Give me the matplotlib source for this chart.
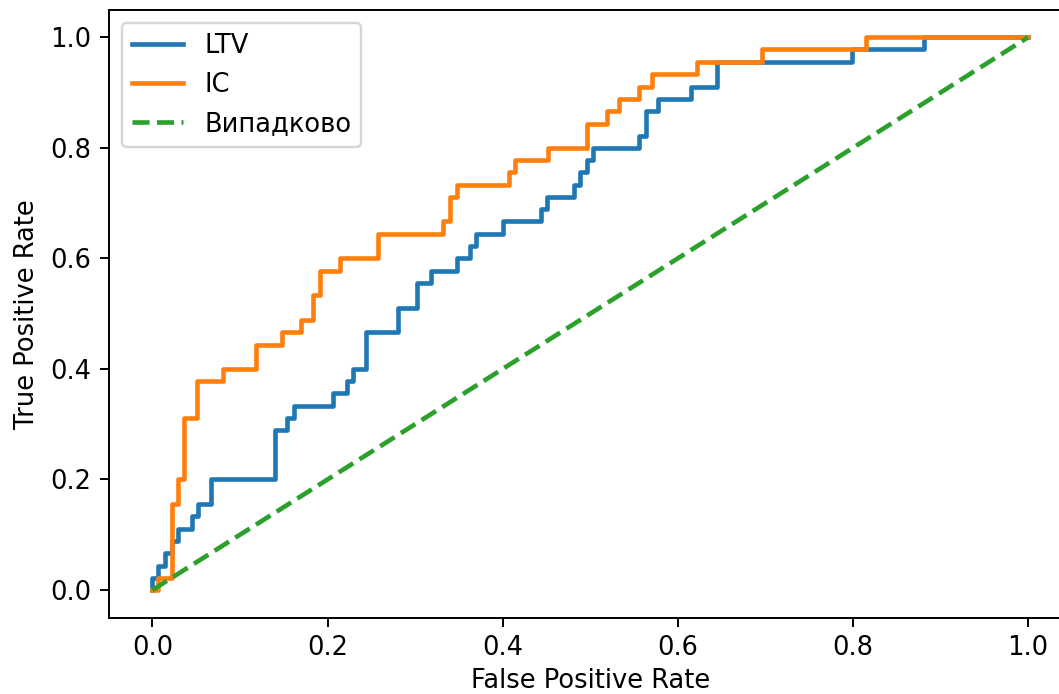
import matplotlib
matplotlib.use("Agg")
import matplotlib.pyplot as plt

# ROC step points: x position where the curve rises, and the level reached there
ltv_fpr = [0.0, 0.0, 0.0066, 0.0143, 0.022, 0.0295, 0.0448, 0.0523, 0.0665, 0.140,
           0.154, 0.1616, 0.2065, 0.2218, 0.2294, 0.2435, 0.2808, 0.3025, 0.3178,
           0.3474, 0.3626, 0.3695, 0.400, 0.4434, 0.4503, 0.4813, 0.4884, 0.4963,
           0.5028, 0.5557, 0.5633, 0.5777, 0.615, 0.6444, 0.799, 0.8815, 1.0]
ltv_tpr = [0.0, 0.022, 0.044, 0.067, 0.089, 0.111, 0.133, 0.156, 0.2, 0.289,
           0.311, 0.333, 0.356, 0.378, 0.4, 0.467, 0.511, 0.556, 0.578,
           0.6, 0.622, 0.644, 0.667, 0.689, 0.711, 0.733, 0.756, 0.778,
           0.8, 0.822, 0.867, 0.889, 0.911, 0.956, 0.978, 1.0, 1.0]

ic_fpr = [0.0, 0.0066, 0.022, 0.0295, 0.0363, 0.0512, 0.0809, 0.1179, 0.1476,
          0.1696, 0.1837, 0.1913, 0.2138, 0.258, 0.3322, 0.3398, 0.3474, 0.4072,
          0.414, 0.4514, 0.4959, 0.5188, 0.5332, 0.556, 0.570, 0.6223, 0.6965,
          0.815, 1.0]
ic_tpr = [0.0, 0.022, 0.156, 0.2, 0.311, 0.378, 0.4, 0.444, 0.467,
          0.489, 0.533, 0.578, 0.6, 0.644, 0.667, 0.711, 0.733, 0.756,
          0.778, 0.8, 0.844, 0.867, 0.889, 0.911, 0.933, 0.956, 0.978,
          1.0, 1.0]

diag = [0.0, 1.0]

plt.rcParams["font.size"] = 10.6
plt.rcParams["xtick.major.size"] = 3.7
plt.rcParams["ytick.major.size"] = 3.7

DPI = 175
fig = plt.figure(figsize=(1059 / DPI, 694 / DPI), dpi=DPI)
ax = fig.add_axes([108.7 / 1059, 1 - 617.6 / 694, 963.1 / 1059, 607.9 / 694])

ax.plot(ltv_fpr, ltv_tpr, drawstyle="steps-post", color="tab:blue", lw=1.9, label="LTV")
ax.plot(ic_fpr, ic_tpr, drawstyle="steps-post", color="tab:orange", lw=1.9, label="IC")
ax.plot(diag, diag, linestyle="--", color="tab:green", lw=1.9, label="Випадково")

ax.set_xlim(-0.05, 1.05)
ax.set_ylim(-0.05, 1.05)
ax.set_xticks([0.0, 0.2, 0.4, 0.6, 0.8, 1.0])
ax.set_yticks([0.0, 0.2, 0.4, 0.6, 0.8, 1.0])
ax.set_xlabel("False Positive Rate", labelpad=2.8)
ax.set_ylabel("True Positive Rate")
ax.legend(loc="upper left")

fig.savefig("out.png", dpi=DPI)
